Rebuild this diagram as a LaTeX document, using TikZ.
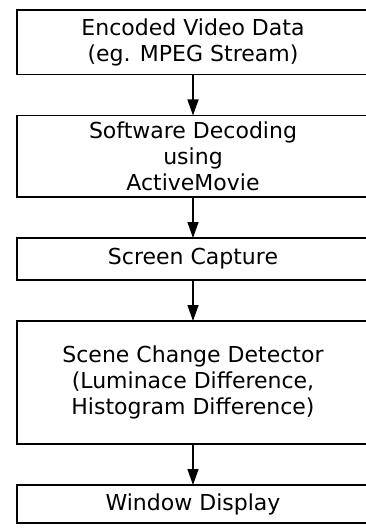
\documentclass[tikz,border=0pt]{standalone}
\usepackage{fontspec}
\setmainfont{DejaVu Sans}
\usetikzlibrary{positioning,arrows.meta}
\tikzset{
  stage/.style={draw, line width=1.4pt, minimum width=352pt, inner sep=0pt, outer sep=0pt,
    align=center, font=\fontsize{22}{26}\selectfont},
  flow/.style={line width=1.4pt, -{Triangle[length=16pt,width=11pt]}},
}
\begin{document}
\begin{tikzpicture}[x=1pt,y=-1pt,node distance=41pt]
  \useasboundingbox (0,0) rectangle (366,529);

  \node[stage, minimum height=64.5pt, anchor=north] (enc) at (193,10) {Encoded Video Data\\(eg. MPEG Stream)};
  \node[stage, minimum height=81.5pt, below=of enc] (dec) {Software Decoding\\using\\ActiveMovie};
  \node[stage, minimum height=42pt, below=of dec] (cap) {Screen Capture};
  \node[stage, minimum height=123pt, below=of cap] (scd) {Scene Change Detector\\(Luminace Difference,\\Histogram Difference)};
  \node[stage, minimum height=38pt, below=of scd] (win) {Window Display};

  \draw[flow] (enc) -- (dec);
  \draw[flow] (dec) -- (cap);
  \draw[flow] (cap) -- (scd);
  \draw[flow] (scd) -- (win);
\end{tikzpicture}
\end{document}
